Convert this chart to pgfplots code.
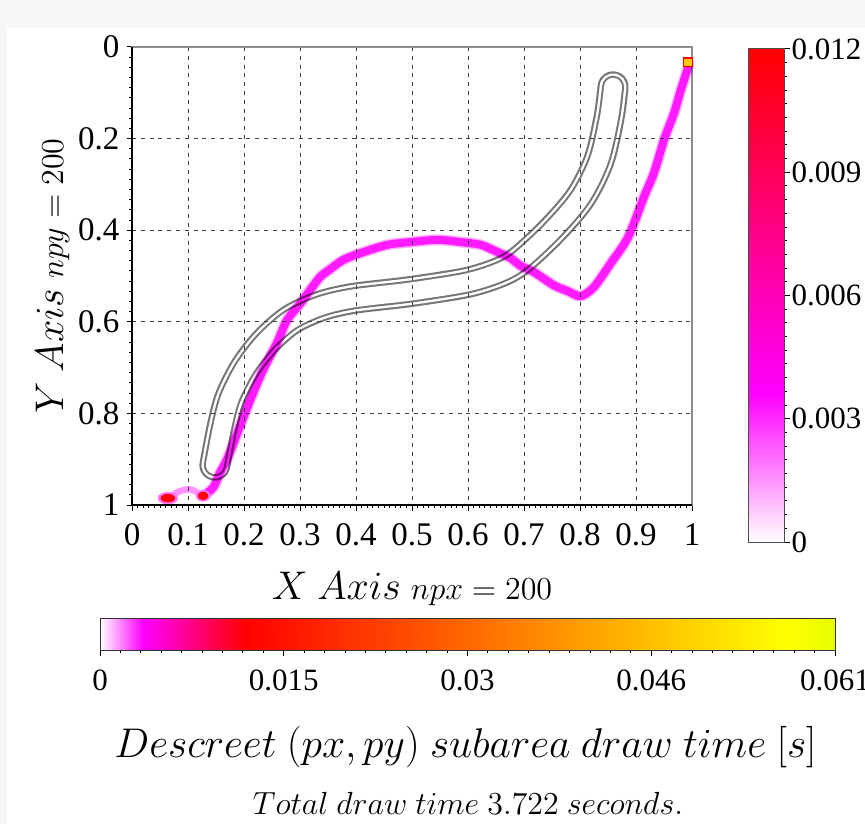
\RequirePackage{fix-cm}
\documentclass[border=0pt]{standalone}
\usepackage[no-math]{fontspec}
\setmainfont{Liberation Serif}
\usepackage{pgfplots}
\usepackage{pgfplotstable}
\pgfplotsset{compat=1.18}
\usepgfplotslibrary{patchplots}

\definecolor{bggray}{RGB}{246,246,246}
\definecolor{tubegray}{RGB}{118,118,118}
\definecolor{mag}{RGB}{255,0,255}
\definecolor{lmag}{RGB}{255,120,255}
\definecolor{pred}{RGB}{255,0,0}
\definecolor{pyel}{RGB}{255,200,0}

\pgfplotsset{
  colormap={heat}{rgb255(0cm)=(255,255,255) rgb255(3.6cm)=(255,0,255) rgb255(12cm)=(255,0,0) rgb255(57cm)=(255,255,0) rgb255(61cm)=(230,255,0)},
  colormap={heatR}{rgb255(0cm)=(255,255,255) rgb255(3.6cm)=(255,0,255) rgb255(12cm)=(255,0,0)},
}

% tube centre line
\pgfplotstableread{
x y
0.148 0.913
0.161 0.830
0.175 0.766
0.202 0.701
0.238 0.644
0.283 0.596
0.336 0.566
0.395 0.549
0.497 0.534
0.599 0.514
0.658 0.491
0.694 0.465
0.751 0.400
0.801 0.328
0.834 0.247
0.852 0.153
0.859 0.087
}\tube

% drawn path
\pgfplotstableread{
x y
0.127 0.980
0.145 0.962
0.157 0.930
0.170 0.900
0.188 0.843
0.211 0.771
0.234 0.705
0.259 0.646
0.277 0.596
0.300 0.561
0.318 0.531
0.336 0.502
0.354 0.485
0.377 0.465
0.408 0.450
0.456 0.432
0.497 0.426
0.546 0.421
0.587 0.426
0.623 0.432
0.653 0.448
0.676 0.461
0.694 0.478
0.717 0.491
0.753 0.520
0.778 0.533
0.801 0.544
0.825 0.524
0.855 0.472
0.886 0.415
0.914 0.328
0.932 0.275
0.950 0.203
0.968 0.144
0.980 0.094
0.993 0.044
0.993 0.033
}\trace

\begin{document}
\begin{tikzpicture}
\useasboundingbox (0,0) rectangle (432.5pt,412pt);
\fill[bggray] (0,0) rectangle (432.5pt,412pt);
\fill[white] (3.5pt,0) rectangle (432.5pt,398pt);

% tube (drawn first, the path is multiplied over it)
\begin{axis}[
  at={(66pt,159.5pt)}, anchor=south west,
  scale only axis, width=280pt, height=229pt,
  xmin=0, xmax=1, ymin=0, ymax=1, y dir=reverse,
  hide axis, clip=false,
]
\addplot[tubegray, line width=15.5pt, smooth, line cap=round, line join=round] table {\tube};
\addplot[white, line width=13.4pt, smooth, line cap=round, line join=round] table {\tube};
\addplot[tubegray, line width=11pt, smooth, line cap=round, line join=round] table {\tube};
\addplot[white, line width=9pt, smooth, line cap=round, line join=round] table {\tube};
\end{axis}

\begin{axis}[
  at={(66pt,159.5pt)}, anchor=south west,
  scale only axis, width=280pt, height=229pt,
  xmin=0, xmax=1, ymin=0, ymax=1, y dir=reverse,
  clip=false,
  xtick={0,0.1,0.2,0.3,0.4,0.5,0.6,0.7,0.8,0.9,1},
  ytick={0,0.2,0.4,0.6,0.8,1},
  minor x tick num=9, minor y tick num=8,
  xtick pos=left, ytick pos=left,
  tick align=outside,
  major tick length=2.75pt, minor tick length=1.5pt,
  every tick/.style={black, line width=0.5pt},
  grid=major,
  major grid style={black!75, line width=0.5pt, dash pattern=on 2pt off 2.4pt},
  axis line style={black!45, line width=0.6pt},
  /pgf/number format/assume math mode=true,
  tick label style={font=\fontsize{16.5}{18}\selectfont},
  xticklabel style={yshift=-3pt},
]
\addplot[mag, opacity=0.3, blend mode=multiply, line width=5.5pt, smooth, line cap=round, line join=round] table {\trace};
\addplot[mag, opacity=0.85, blend mode=multiply, line width=4pt, smooth, line cap=round, line join=round] table {\trace};
\addplot[lmag, opacity=0.8, blend mode=multiply, line width=3.2pt, smooth, line cap=round] coordinates {
  (0.064,0.985) (0.085,0.970) (0.105,0.966) (0.127,0.980)};
\addplot[only marks, mark=*, mark size=2.9pt, mark options={draw=lmag, fill=lmag, xscale=1.7}] coordinates {(0.064,0.985)};
\addplot[only marks, mark=*, mark size=1.9pt, mark options={draw=pred, fill=pred, xscale=1.8}] coordinates {(0.064,0.985)};
\addplot[only marks, mark=*, mark size=2.7pt, mark options={draw=lmag, fill=lmag, xscale=1.3}] coordinates {(0.127,0.980)};
\addplot[only marks, mark=*, mark size=1.9pt, mark options={draw=pred, fill=pred, xscale=1.3}] coordinates {(0.127,0.980)};
\addplot[only marks, mark=square*, mark size=2.2pt, mark options={draw=pred, line width=0.8pt, fill=pyel}] coordinates {(0.993,0.033)};
\end{axis}
\draw[black, line width=0.75pt] (66pt,388.5pt) -- (66pt,159.5pt) -- (346pt,159.5pt);

% right colour bar
\begin{axis}[
  at={(374pt,141pt)}, anchor=south west,
  scale only axis, width=18pt, height=246.5pt,
  xmin=0, xmax=1, ymin=0, ymax=0.012,
  xtick=\empty,
  ytick={0,0.003,0.006,0.009,0.012},
  yticklabels={0,0.003,0.006,0.009,0.012},
  scaled y ticks=false,
  minor y tick num=8,
  ytick pos=right, yticklabel pos=right,
  tick align=outside,
  major tick length=2.75pt, minor tick length=1.5pt,
  every tick/.style={black, line width=0.5pt},
  axis line style={black!70, line width=0.5pt},
  colormap name=heatR, point meta min=0, point meta max=0.012,
  tick label style={font=\fontsize{15.5}{17}\selectfont},
  yticklabel style={xshift=-2.5pt},
  axis on top,
]
\addplot[patch, patch type=rectangle, shader=interp, point meta=y] coordinates {
  (0,0) (1,0) (1,0.0036) (0,0.0036)
  (0,0.0036) (1,0.0036) (1,0.012) (0,0.012)
};
\end{axis}

% bottom colour bar
\begin{axis}[
  at={(50pt,87pt)}, anchor=south west,
  scale only axis, width=367.5pt, height=16pt,
  xmin=0, xmax=0.061, ymin=0, ymax=1,
  ytick=\empty,
  xtick={0,0.01525,0.0305,0.04575,0.061},
  xticklabels={0,0.015,0.03,0.046,0.061},
  scaled x ticks=false,
  minor x tick num=8,
  xtick pos=left, xticklabel pos=left,
  tick align=outside,
  major tick length=2.75pt, minor tick length=1.5pt,
  every tick/.style={black, line width=0.5pt},
  axis line style={black!80, line width=0.5pt},
  colormap name=heat, point meta min=0, point meta max=0.061,
  tick label style={font=\fontsize{15.5}{17}\selectfont},
  xticklabel style={yshift=-3.5pt},
  axis on top,
]
\addplot[patch, patch type=rectangle, shader=interp, point meta=x] coordinates {
  (0,0) (0.0036,0) (0.0036,1) (0,1)
  (0.0036,0) (0.012,0) (0.012,1) (0.0036,1)
  (0.012,0) (0.057,0) (0.057,1) (0.012,1)
  (0.057,0) (0.061,0) (0.061,1) (0.057,1)
};
\end{axis}

\node[anchor=base, font=\fontsize{20}{24}\selectfont] at (206pt,112.5pt)
  {$X\ Axis$ {\fontsize{16}{19}\selectfont$npx = 200$}};
\node[anchor=base, rotate=90, font=\fontsize{20}{24}\selectfont] at (31.5pt,274pt)
  {$Y\ Axis$ {\fontsize{16}{19}\selectfont$npy = 200$}};
\node[anchor=base, font=\fontsize{20.75}{25}\selectfont] at (232.75pt,33.5pt)
  {$Descreet\ (px, py)\ subarea\ draw\ time\ [s]$};
\node[anchor=base, font=\fontsize{16}{19}\selectfont] at (234pt,5pt)
  {$Total\ draw\ time\ 3.722\ seconds.$};
\end{tikzpicture}
\end{document}
